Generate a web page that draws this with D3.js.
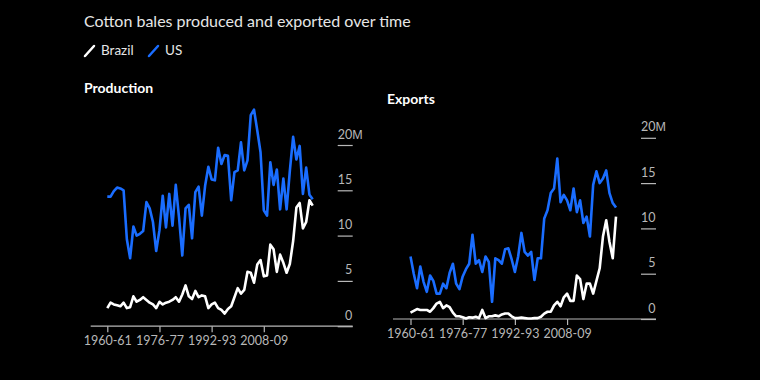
<!DOCTYPE html>
<html>
<head>
<meta charset="utf-8">
<script src="https://cdn.jsdelivr.net/npm/d3@7"></script>
<style>
  html, body { margin: 0; padding: 0; background: #000; }
  svg { display: block; font-family: Lato, "Noto Sans", sans-serif; }
</style>
</head>
<body>
<script>
// seasons 1960-61 .. 2023-24
var seasons = d3.range(1960, 2024).map(function (y) {
    return y + "-" + String(y + 1).slice(2);
});
var tickLabels = ["1960-61", "1976-77", "1992-93", "2008-09"];
var yTicks = [0, 5, 10, 15, 20];

// million bales
var usProduction = [
    14.3, 14.3, 14.9, 15.3, 15.2, 15.0, 9.6, 7.5, 11.0, 10.0,
    10.2, 10.5, 13.7, 13.0, 11.5, 8.3, 10.6, 14.4, 10.9, 14.6,
    11.1, 15.6, 12.0, 7.8, 13.0, 13.4, 9.7, 14.8, 15.4, 12.2,
    15.5, 17.6, 16.2, 16.1, 19.7, 17.9, 18.9, 18.8, 13.9, 17.0,
    17.2, 20.3, 17.2, 18.3, 23.3, 23.9, 21.6, 19.2, 12.8, 12.2,
    18.1, 15.6, 17.3, 12.9, 16.3, 12.9, 17.2, 20.9, 18.4, 19.9,
    14.6, 17.5, 14.5, 14.0
];
var brazilProduction = [
    2.0, 2.6, 2.4, 2.3, 2.2, 2.6, 2.0, 2.1, 3.3, 2.7,
    2.9, 3.2, 2.9, 2.6, 2.4, 2.0, 2.7, 2.4, 2.6, 2.7,
    2.9, 3.2, 2.7, 3.5, 4.5, 3.3, 3.0, 3.9, 3.2, 3.4,
    3.3, 2.0, 2.4, 2.6, 2.0, 1.8, 1.4, 1.9, 2.2, 3.2,
    4.2, 3.6, 4.0, 6.0, 5.9, 4.8, 6.8, 7.3, 5.5, 5.6,
    9.0, 8.5, 6.0, 7.9, 7.0, 5.9, 6.9, 9.4, 13.1, 13.6,
    10.8, 11.5, 13.9, 13.3
];
var usExports = [
    6.9, 5.0, 3.4, 5.8, 4.1, 3.0, 4.8, 4.2, 2.8, 2.8,
    3.9, 3.4, 5.1, 6.1, 3.9, 3.3, 4.7, 5.5, 6.1, 9.3,
    6.1, 6.5, 5.2, 6.9, 6.3, 1.9, 6.7, 6.5, 6.1, 7.7,
    7.8, 6.6, 5.2, 6.9, 9.5, 7.4, 7.0, 7.4, 4.3, 6.7,
    6.7, 11.1, 12.0, 13.9, 14.4, 17.7, 12.9, 13.7, 13.1, 12.0,
    14.4, 11.8, 13.1, 10.6, 11.3, 9.1, 14.8, 16.3, 15.0, 15.5,
    16.4, 13.9, 12.8, 12.3
];
var brazilExports = [
    0.7, 0.9, 1.1, 1.0, 1.0, 1.0, 0.8, 1.2, 1.7, 1.9,
    1.2, 1.5, 1.3, 0.7, 0.3, 0.3, 0.2, 0.05, 0.2, 0.15,
    0.25, 0.1, 1.0, 0.1, 0.3, 0.3, 0.4, 0.3, 0.5, 0.6,
    0.6, 0.3, 0.1, 0.1, 0.15, 0.1, 0.05, 0.05, 0.1, 0.1,
    0.25, 0.6, 0.8, 0.8, 1.5, 1.9, 1.4, 2.4, 2.8, 2.0,
    2.0, 4.8, 4.4, 2.2, 3.9, 3.9, 2.8, 4.2, 5.6, 9.1,
    10.9, 8.5, 6.7, 11.3
];

var BLUE = "#1a6dff";
var WHITE = "#ffffff";
var GREY = "#b8b8b8";

var svg = d3.select("body").append("svg")
    .attr("width", 760)
    .attr("height", 380);

svg.append("rect").attr("width", 760).attr("height", 380).attr("fill", "#000");

svg.append("text")
    .attr("x", 84).attr("y", 27)
    .attr("fill", "#e6e6e6")
    .attr("font-size", 16)
    .text("Cotton bales produced and exported over time");

// legend
var legend = [{name: "Brazil", color: WHITE, x: 84}, {name: "US", color: BLUE, x: 148}];
legend.forEach(function (d) {
    svg.append("line")
        .attr("x1", d.x + 1).attr("y1", 56)
        .attr("x2", d.x + 10).attr("y2", 46)
        .attr("stroke", d.color).attr("stroke-width", 2.5)
        .attr("stroke-linecap", "round");
    svg.append("text")
        .attr("x", d.x + 17).attr("y", 55)
        .attr("fill", "#e6e6e6")
        .attr("font-size", 13.5)
        .text(d.name);
});

function panel(opts) {
    var g = svg.append("g");

    var x = d3.scalePoint().domain(seasons).range([opts.x0, opts.x1]);
    var y = d3.scaleLinear().domain([0, 20]).range([opts.yBase, opts.yBase - 181.2]);

    g.append("text")
        .attr("x", opts.titleX).attr("y", opts.titleY)
        .attr("fill", "#fff")
        .attr("font-size", 14)
        .attr("font-weight", "bold")
        .text(opts.title);

    // y ticks on the right
    var yAxis = g.append("g")
        .attr("transform", "translate(" + opts.axisEnd + ",0)")
        .call(d3.axisLeft(y).tickValues(yTicks).tickSize(15).tickFormat(d3.format("d")));
    yAxis.select(".domain").remove();
    yAxis.selectAll(".tick line").attr("stroke", GREY).attr("stroke-width", 1.2);
    yAxis.selectAll(".tick text")
        .attr("x", -0.5).attr("dy", -7)
        .attr("fill", GREY)
        .attr("font-size", 12.5)
        .attr("font-family", "Lato, sans-serif");
    yAxis.selectAll(".tick").filter(function (d) { return d === 20; })
        .append("text")
        .attr("x", -0.5).attr("y", 0).attr("dy", -7)
        .attr("text-anchor", "start")
        .attr("fill", GREY)
        .attr("font-size", 12.5)
        .text("M");

    // baseline
    g.append("line")
        .attr("x1", opts.axisStart).attr("x2", opts.axisEnd)
        .attr("y1", y(0)).attr("y2", y(0))
        .attr("stroke", GREY).attr("stroke-width", 1.2);

    var xAxis = g.append("g")
        .attr("transform", "translate(0," + y(0) + ")")
        .call(d3.axisBottom(x).tickValues(tickLabels).tickSize(6).tickPadding(4));
    xAxis.select(".domain").remove();
    xAxis.selectAll(".tick line").attr("stroke", GREY).attr("stroke-width", 1.2);
    xAxis.selectAll(".tick text")
        .attr("fill", GREY)
        .attr("font-size", 12.5)
        .attr("font-family", "Lato, sans-serif");

    var line = d3.line()
        .x(function (d, i) { return x(seasons[i]); })
        .y(function (d) { return y(d); });

    g.append("path")
        .datum(opts.us)
        .attr("d", line)
        .attr("fill", "none")
        .attr("stroke", BLUE)
        .attr("stroke-width", 2.6)
        .attr("stroke-linejoin", "round");

    g.append("path")
        .datum(opts.brazil)
        .attr("d", line)
        .attr("fill", "none")
        .attr("stroke", WHITE)
        .attr("stroke-width", 2.6)
        .attr("stroke-linejoin", "round");
}

panel({
    title: "Production", titleX: 84, titleY: 93,
    x0: 107.3, x1: 312.7, yBase: 326.2,
    axisStart: 90.7, axisEnd: 352.7,
    us: usProduction, brazil: brazilProduction
});

panel({
    title: "Exports", titleX: 387, titleY: 103.5,
    x0: 410.5, x1: 616, yBase: 319,
    axisStart: 393, axisEnd: 656,
    us: usExports, brazil: brazilExports
});
</script>
</body>
</html>
